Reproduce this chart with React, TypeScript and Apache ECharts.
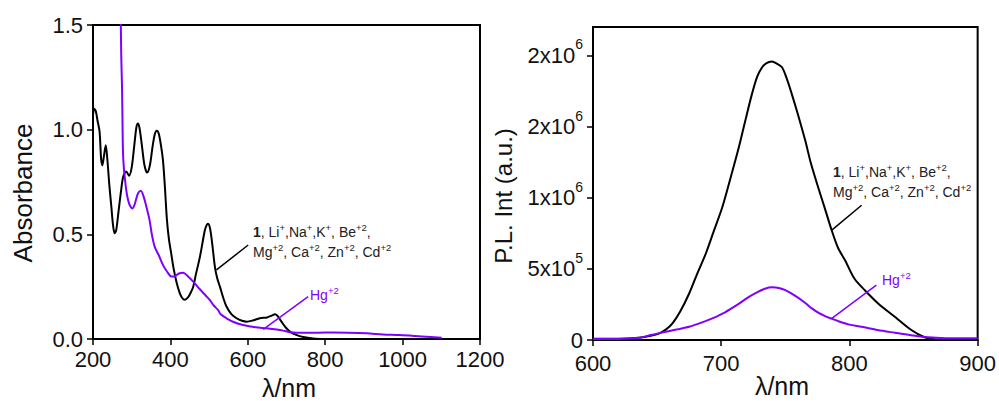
import React, { useEffect, useRef } from "react";
import * as echarts from "echarts";

// ---------- Left panel: absorbance ----------
const absBlack: [number, number][] = [
  [200, 1.07], [203, 1.1], [207, 1.09], [212, 1.04], [217, 0.99], [221, 0.86], [224, 0.83], [228, 0.87],
  [233, 0.925], [237, 0.86], [242, 0.74], [247.5, 0.63], [252, 0.54], [256, 0.505], [260, 0.52], [266, 0.61],
  [272, 0.7], [278, 0.775], [286, 0.8], [293, 0.78], [300, 0.82], [307, 0.93], [312, 1.01], [316, 1.03],
  [320, 1.01], [326, 0.93], [333, 0.83], [340, 0.795], [347, 0.83], [354, 0.92], [360, 0.98], [365, 0.995],
  [370, 0.98], [376, 0.92], [381, 0.85], [386, 0.72], [391, 0.57], [396, 0.48], [402, 0.41], [408, 0.34],
  [416, 0.27], [424, 0.22], [430, 0.197], [437, 0.187], [446, 0.2], [452, 0.22], [459, 0.25], [466, 0.31],
  [476, 0.39], [483, 0.46], [489, 0.52], [494, 0.545], [497, 0.55], [501, 0.54], [505, 0.5], [509, 0.44],
  [515, 0.345], [521, 0.29], [528, 0.25], [536, 0.2], [545, 0.155], [557, 0.12], [571, 0.099], [585, 0.087],
  [597, 0.083], [612, 0.088], [631, 0.099], [650, 0.103], [662, 0.112], [670, 0.118], [677, 0.11], [687, 0.083],
  [698, 0.055], [709, 0.035], [725, 0.02], [743, 0.01], [769, 0.003], [800, 0],
];
const absHg: [number, number][] = [
  [271, 1.65], [273, 1.35], [275, 1.205], [276.5, 1.0], [277.6, 0.887], [280, 0.81], [282, 0.775], [286, 0.71],
  [290.6, 0.664], [296, 0.635], [302, 0.624], [308, 0.645], [315, 0.69], [320, 0.705], [324, 0.707], [330, 0.685],
  [338, 0.632], [346, 0.569], [352, 0.5], [359.5, 0.44], [370, 0.4], [381, 0.353], [392, 0.32], [403, 0.298],
  [412, 0.3], [422, 0.313], [433, 0.317], [445, 0.3], [459, 0.274], [470, 0.25], [480, 0.23], [490, 0.21],
  [502, 0.186], [512, 0.16], [523, 0.139], [530, 0.118], [545, 0.099], [565, 0.08], [588, 0.067], [620, 0.056],
  [648, 0.051], [675, 0.045], [691, 0.04], [710, 0.032], [726, 0.03], [780, 0.03], [821, 0.031], [860, 0.03],
  [907, 0.027], [950, 0.022], [993, 0.019], [1050, 0.012], [1101, 0.006],
];
const absBlackLeader: [number, number][] = [[519, 0.33], [601, 0.449]];
const absHgLeader: [number, number][] = [[640, 0.046], [756, 0.202]];
const absXRange = [200, 1200, 200];
const absYRange = [0, 1.5, 0.5];

// ---------- Right panel: photoluminescence ----------
const plBlack: [number, number][] = [
  [600, 8e3], [620, 8e3], [636, 1.6e4], [645, 3e4], [651.7, 4.7e4], [657, 7.5e4], [662, 1.17e5], [668, 2.0e5],
  [675, 3.27e5], [681, 4.6e5], [688, 6.08e5], [694, 7.6e5], [700.9, 9.35e5], [707, 1.13e6], [713.8, 1.356e6],
  [719, 1.55e6], [724, 1.73e6], [728, 1.85e6], [731.9, 1.917e6], [735, 1.945e6], [739.6, 1.957e6], [743, 1.945e6],
  [747.4, 1.917e6], [751, 1.84e6], [755, 1.73e6], [760, 1.58e6], [765.6, 1.4e6], [770, 1.24e6], [775.9, 1.065e6],
  [781, 9.2e5], [786.2, 7.7e5], [791, 6.5e5], [796.6, 5.6e5], [804, 4.3e5], [812, 3.5e5], [822.4, 2.57e5],
  [835.4, 1.63e5], [848.3, 7e4], [858.6, 1.9e4], [866.4, 5e3], [875, 0], [900, 0],
];
const plHg: [number, number][] = [
  [600, 7e3], [620, 7e3], [636, 1.5e4], [645, 3.5e4], [657, 5.8e4], [666, 7.5e4], [675, 9.3e4], [684, 1.2e5],
  [693, 1.52e5], [703, 1.95e5], [713, 2.5e5], [721, 3.0e5], [729, 3.4e5], [734, 3.6e5], [739.6, 3.7e5],
  [745, 3.65e5], [750, 3.5e5], [757.8, 3.1e5], [765.6, 2.6e5], [770.7, 2.22e5], [776, 1.9e5], [781, 1.68e5],
  [786, 1.5e5], [792, 1.3e5], [800, 1.08e5], [809.5, 9.3e4], [822, 7e4], [835.4, 5.1e4], [848, 3.4e4],
  [861.2, 1.9e4], [875, 1.3e4], [900, 1.2e4],
];
const plBlackLeader: [number, number][] = [[786, 7.7e5], [809.5, 9.47e5]];
const plHgLeader: [number, number][] = [[786, 1.5e5], [821, 3.86e5]];
const plXRange = [600, 900, 100];
const plYMax = 2.2e6;
const plYTickValues = [0, 5e5, 1e6, 1.5e6, 2e6];
const plYTickMantissa = ["0", "5x10", "1x10", "2x10", "2x10"];
const plYTickExp = ["", "5", "6", "6", "6"];

const BLACK = "#000000";
const PURPLE = "#8000ff";
const FONT = 'Arial, "Liberation Sans", sans-serif';

const annoLines =
  "{b|1}{n|, Li}{s|+}{n|,Na}{s|+}{n|,K}{s|+}{n|, Be}{s|+2}{n|,}\n" +
  "{n|Mg}{s|+2}{n|, Ca}{s|+2}{n|, Zn}{s|+2}{n|, Cd}{s|+2}";
const hgText = "{n|Hg}{s|+2}";

const annoRich = {
  n: { fontSize: 14, lineHeight: 20, fontFamily: FONT },
  b: { fontSize: 14, lineHeight: 20, fontFamily: FONT, fontWeight: "bold" },
  s: { fontSize: 9.5, lineHeight: 10, fontFamily: FONT, verticalAlign: "top" },
};

export default function App() {
  const ref = useRef<HTMLDivElement>(null);
  useEffect(() => {
    if (!ref.current) return;
    const chart = echarts.init(ref.current, undefined, { renderer: "svg" });

    const axisLine = { show: true, onZero: false, lineStyle: { color: BLACK, width: 2 } };
    const axisTick = { show: true, inside: false, length: 6, lineStyle: { color: BLACK, width: 1.5 } };
    const labelBase = { color: "#111", fontSize: 22, fontFamily: FONT };

    const line = (data: [number, number][], color: string, idx: number, width = 2) => ({
      type: "line",
      data,
      xAxisIndex: idx,
      yAxisIndex: idx,
      symbol: "none",
      smooth: 0.3,
      lineStyle: { color, width },
      silent: true,
    });
    const leader = (data: [number, number][], color: string, idx: number) => ({
      type: "line",
      data,
      xAxisIndex: idx,
      yAxisIndex: idx,
      symbol: "none",
      lineStyle: { color, width: 1.5 },
      silent: true,
    });

    chart.setOption({
      animation: false,
      grid: [
        { left: 93, top: 25, width: 387, height: 314, show: true, borderColor: BLACK, borderWidth: 2, backgroundColor: "transparent" },
        { left: 593, top: 27, width: 387, height: 313, show: true, borderColor: BLACK, borderWidth: 2, backgroundColor: "transparent" },
      ],
      xAxis: [
        {
          type: "value", gridIndex: 0, min: absXRange[0], max: absXRange[1], interval: absXRange[2],
          axisLine, axisTick, splitLine: { show: false },
          axisLabel: { ...labelBase, margin: 9, formatter: (v: number) => String(v) },
        },
        {
          type: "value", gridIndex: 1, min: plXRange[0], max: plXRange[1], interval: plXRange[2],
          axisLine, axisTick, splitLine: { show: false },
          axisLabel: { ...labelBase, margin: 12, formatter: (v: number) => String(v) },
        },
      ],
      yAxis: [
        {
          type: "value", gridIndex: 0, min: absYRange[0], max: absYRange[1], interval: absYRange[2],
          axisLine, axisTick, splitLine: { show: false },
          axisLabel: { ...labelBase, margin: 10, formatter: (v: number) => v.toFixed(1) },
        },
        {
          type: "value", gridIndex: 1, min: 0, max: plYMax,
          axisLine, splitLine: { show: false },
          axisTick: { ...axisTick, customValues: plYTickValues },
          axisLabel: {
            ...labelBase,
            margin: 10,
            customValues: plYTickValues,
            formatter: (v: number) => {
              const i = plYTickValues.indexOf(v);
              if (i < 0) return "";
              return plYTickExp[i] ? `{n|${plYTickMantissa[i]}}{s|${plYTickExp[i]}}` : `{z|${plYTickMantissa[i]}}`;
            },
            rich: {
              n: { fontSize: 22, lineHeight: 36, fontFamily: FONT, color: "#111" },
              z: { fontSize: 22, lineHeight: 16, fontFamily: FONT, color: "#111" },
              s: { fontSize: 14, lineHeight: 14, fontFamily: FONT, color: "#111", verticalAlign: "top" },
            },
          },
        },
      ],
      series: [
        line(absBlack, BLACK, 0),
        line(absHg, PURPLE, 0),
        leader(absBlackLeader, BLACK, 0),
        leader(absHgLeader, PURPLE, 0),
        line(plBlack, BLACK, 1),
        line(plHg, PURPLE, 1),
        leader(plBlackLeader, BLACK, 1),
        leader(plHgLeader, PURPLE, 1),
      ],
      graphic: [
        { type: "text", x: 23, y: 193, rotation: Math.PI / 2, style: { text: "Absorbance", fontSize: 26, fontFamily: FONT, fill: "#111", align: "center", verticalAlign: "middle" } },
        { type: "text", x: 289, y: 388, style: { text: "λ/nm", fontSize: 25, fontFamily: FONT, fill: "#111", align: "center", verticalAlign: "middle" } },
        { type: "text", x: 503, y: 196, rotation: Math.PI / 2, style: { text: "P.L. Int (a.u.)", fontSize: 24, fontFamily: FONT, fill: "#111", align: "center", verticalAlign: "middle" } },
        { type: "text", x: 782, y: 386, style: { text: "λ/nm", fontSize: 25, fontFamily: FONT, fill: "#111", align: "center", verticalAlign: "middle" } },
        { type: "text", x: 253, y: 222, style: { text: annoLines, rich: annoRich, fill: "#222", fontSize: 14, lineHeight: 20, fontFamily: FONT, align: "left", verticalAlign: "top" } },
        { type: "text", x: 310, y: 285, style: { text: hgText, rich: annoRich, fill: PURPLE, fontSize: 14, lineHeight: 20, fontFamily: FONT, align: "left", verticalAlign: "top" } },
        { type: "text", x: 833, y: 162, style: { text: annoLines, rich: annoRich, fill: "#222", fontSize: 14, lineHeight: 20, fontFamily: FONT, align: "left", verticalAlign: "top" } },
        { type: "text", x: 882, y: 270, style: { text: hgText, rich: annoRich, fill: PURPLE, fontSize: 14, lineHeight: 20, fontFamily: FONT, align: "left", verticalAlign: "top" } },
      ],
    });
    return () => chart.dispose();
  }, []);
  return <div ref={ref} style={{ position: "absolute", left: 0, top: 0, width: 999, height: 401, background: "#fff" }} />;
}
